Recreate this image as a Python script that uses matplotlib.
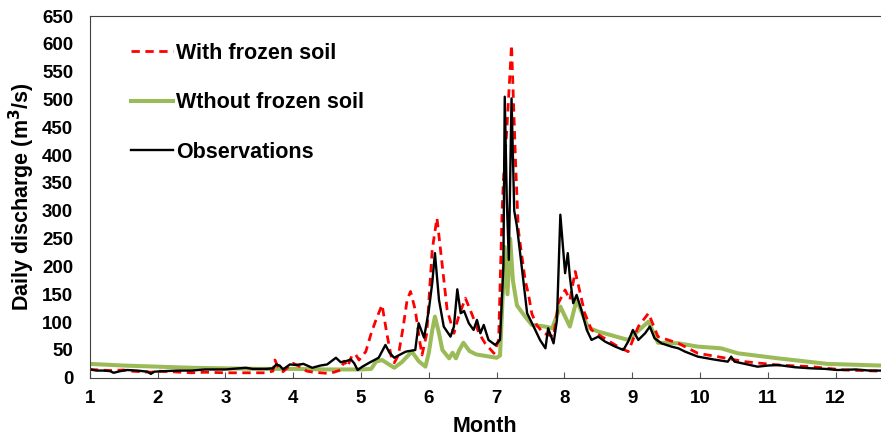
import matplotlib.pyplot as plt
import numpy as np

plt.rcParams['font.family'] = ['Liberation Sans', 'DejaVu Sans']
plt.rcParams['font.weight'] = 'bold'

# values (month as fractional position, discharge in m3/s)
obs_month = [1.0, 1.1, 1.2, 1.3, 1.35, 1.45, 1.55, 1.7, 1.85, 1.9, 1.95, 2.1, 2.3, 2.5, 2.7, 3.0,
             3.2, 3.3, 3.4, 3.6, 3.7, 3.75, 3.8, 3.85, 3.95, 4.04, 4.15, 4.28, 4.4, 4.5, 4.63, 4.7,
             4.78, 4.85, 4.9, 4.95, 5.02, 5.12, 5.26, 5.36, 5.42, 5.49, 5.58, 5.66, 5.8, 5.85, 5.93,
             6.0, 6.05, 6.09, 6.15, 6.22, 6.32, 6.37, 6.42, 6.47, 6.52, 6.59, 6.66, 6.71, 6.76, 6.81,
             6.88, 6.98, 7.05, 7.1, 7.12, 7.15, 7.18, 7.22, 7.26, 7.3, 7.37, 7.45, 7.57, 7.64, 7.72,
             7.76, 7.84, 7.89, 7.94, 8.01, 8.05, 8.08, 8.13, 8.18, 8.25, 8.33, 8.4, 8.5, 8.6, 8.75,
             8.87, 8.94, 9.01, 9.09, 9.19, 9.26, 9.33, 9.43, 9.58, 9.68, 9.78, 9.97, 10.2, 10.41,
             10.46, 10.51, 10.7, 10.85, 11.0, 11.15, 11.4, 11.64, 11.85, 12.03, 12.3, 12.5, 12.67]
obs_q = [15, 13, 13, 12, 9, 12, 14, 13, 11, 7, 11, 12, 13, 13, 15, 15,
         17, 18, 16, 16, 17, 24, 22, 15, 24, 23, 25, 18, 22, 24, 36, 28,
         30, 33, 26, 14, 20, 27, 36, 59, 45, 36, 42, 47, 50, 98, 72,
         122, 170, 224, 140, 92, 74, 92, 159, 116, 120, 98, 86, 104, 80, 95,
         68, 59, 68, 200, 505, 320, 212, 502, 300, 272, 200, 116, 86, 68, 53,
         89, 62, 104, 293, 188, 224, 182, 134, 149, 122, 86, 68, 74, 65, 56,
         50, 65, 86, 68, 80, 92, 71, 62, 56, 53, 47, 38, 33, 29,
         38, 29, 24, 20, 22, 23, 19, 17, 16, 14, 15, 13, 13]

frozen_month = [1.0, 1.3, 1.5, 1.6, 1.9, 2.0, 2.2, 2.5, 2.7, 3.0, 3.3, 3.6, 3.7, 3.73, 3.78, 3.85,
                3.95, 4.0, 4.1, 4.2, 4.3, 4.5, 4.6, 4.7, 4.75, 4.8, 4.87, 4.92, 4.97, 5.07, 5.15,
                5.22, 5.31, 5.38, 5.45, 5.49, 5.55, 5.62, 5.68, 5.73, 5.8, 5.86, 5.9, 5.97, 6.05,
                6.12, 6.2, 6.27, 6.37, 6.44, 6.54, 6.64, 6.74, 6.83, 6.96, 7.03, 7.08, 7.1, 7.15,
                7.22, 7.28, 7.32, 7.42, 7.47, 7.52, 7.59, 7.69, 7.84, 7.91, 8.01, 8.08, 8.16, 8.3,
                8.4, 8.55, 8.79, 8.94, 9.09, 9.24, 9.38, 9.68, 9.97, 10.26, 10.66, 11.15, 11.64,
                12.13, 12.67]
frozen_q = [15, 13, 14, 12, 10, 12, 11, 9, 10, 9, 9, 9, 12, 32, 18, 11,
            22, 26, 20, 12, 10, 8, 10, 14, 30, 20, 41, 42, 32, 47, 80,
            104, 131, 80, 35, 27, 40, 90, 140, 155, 122, 70, 41, 80, 230,
            287, 200, 122, 80, 110, 143, 113, 80, 62, 44, 68, 296, 355, 445,
            598, 385, 266, 176, 150, 115, 95, 80, 74, 134, 158, 140, 191, 116,
            86, 74, 56, 47, 92, 116, 74, 62, 44, 38, 29, 23, 20,
            14, 12]

nofrozen_month = [1.0, 1.5, 2.0, 2.5, 3.0, 3.5, 4.0, 4.5, 5.0, 5.15, 5.22, 5.31, 5.4, 5.49, 5.6,
                  5.75, 5.85, 5.95, 6.0, 6.05, 6.09, 6.15, 6.2, 6.3, 6.35, 6.4, 6.45, 6.51, 6.6,
                  6.7, 6.8, 6.9, 7.0, 7.05, 7.08, 7.12, 7.16, 7.2, 7.24, 7.3, 7.42, 7.52, 7.72,
                  7.82, 7.94, 8.08, 8.18, 8.35, 8.5, 8.94, 9.24, 9.38, 9.68, 9.97, 10.31, 10.56,
                  11.15, 11.88, 12.67]
nofrozen_q = [25, 22, 20, 18, 17, 16, 16, 15, 15, 16, 29, 32, 25, 18, 28,
              47, 30, 20, 45, 85, 110, 80, 50, 35, 45, 35, 50, 63, 48,
              42, 40, 38, 36, 40, 120, 235, 150, 250, 175, 130, 110, 95, 92,
              89, 128, 92, 140, 90, 83, 68, 101, 63, 62, 56, 53, 44,
              35, 25, 22]

fig = plt.figure(figsize=(8.81, 4.45), dpi=100)
ax = fig.add_axes([0.102, 0.151, 0.898, 0.813])

ax.plot(nofrozen_month, nofrozen_q, color='#9bbb59', lw=2.9, label='Wthout frozen soil')
ax.plot(frozen_month, frozen_q, color='#ff0000', lw=2.0, ls=(0, (3, 2)), label='With frozen soil')
ax.plot(obs_month, obs_q, color='black', lw=1.7, label='Observations')

ax.set_xlim(1, 12.67)
ax.set_ylim(0, 650)
ax.set_xticks(range(1, 13))
ax.set_yticks(range(0, 651, 50))
ax.tick_params(axis='x', direction='in', length=4, labelsize=13.5, pad=9, color='#555555')
ax.tick_params(axis='y', length=0, labelsize=13.5, pad=12)
ax.spines['right'].set_visible(False)
for s in ['left', 'top', 'bottom']:
    ax.spines[s].set_color('#404040')
ax.set_xlabel('Month', fontsize=15.5, fontweight='bold', labelpad=6)
ax.set_ylabel('Daily discharge (m$^{\\mathbf{3}}$/s)', fontsize=15.5, fontweight='bold', labelpad=4)

h, l = ax.get_legend_handles_labels()
order = [1, 0, 2]
ax.legend([h[i] for i in order], [l[i] for i in order], loc='upper left', frameon=False,
          bbox_to_anchor=(0.027, 0.98), fontsize=15.5, labelspacing=1.33,
          handlelength=1.95, handletextpad=0.15)

plt.savefig('out.png', dpi=100)
